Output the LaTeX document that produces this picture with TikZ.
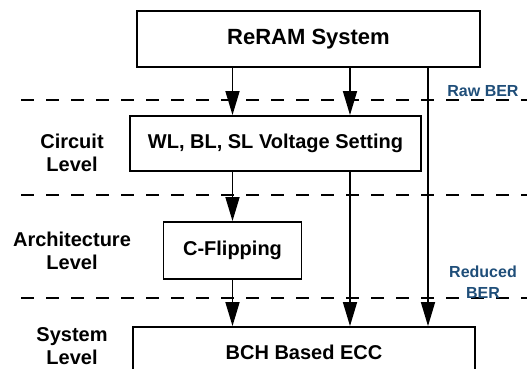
\documentclass[tikz,border=0pt]{standalone}
\usepackage{fontspec}
\setmainfont{Liberation Sans}
\usepackage{xcolor}
\usetikzlibrary{positioning,arrows.meta}
\definecolor{BerBlue}{HTML}{1F4E79}

\begin{document}
\begin{tikzpicture}[
  x=1pt,y=-1pt,
  every node/.style={font=\bfseries\fontsize{20}{23}\selectfont,align=center,inner sep=0pt},
  box/.style={draw=black,line width=1.8pt,fill=white,minimum height=56pt},
  level/.style={text=black},
  ber/.style={text=BerBlue,font=\bfseries\fontsize{16}{21}\selectfont},
  sep/.style={dashed,dash pattern=on 13pt off 12pt,line width=1.5pt},
  arr/.style={-{Triangle[length=24pt,width=14pt]},line width=1.5pt}
]
  \clip (0,0) rectangle (527,369);
  \useasboundingbox (0,0) rectangle (527,369);

  % level separators
  \draw[sep] (21,100) -- (527,100);
  \draw[sep] (21,195) -- (527,195);
  \draw[sep] (21,298) -- (527,298);

  \node[box,minimum width=343pt,font=\bfseries\fontsize{22}{24}\selectfont] (reram) at (308.5,39) {ReRAM System};
  \node[box,minimum width=291pt,minimum height=55pt] (wl) at (275.5,143.5) {WL, BL, SL Voltage Setting};
  \node[box,minimum width=138pt,minimum height=57pt] (cflip) at (232.5,250.5) {C-Flipping};
  \node[box,minimum width=342pt,minimum height=50pt] (bch) at (304,352) {BCH Based ECC};

  \node[level] (circuit) at (72,153) {Circuit\\Level};
  \node[level] (arch) at (72,251) {Architecture\\Level};
  \node[level] (system) at (72,346) {System\\Level};
  \node[ber] (raw) at (483,91) {Raw BER};
  \node[ber] (reduced) at (483,282) {Reduced\\BER};

  \coordinate (mid) at (350,0);
  \coordinate (side) at (428,0);

  \draw[arr] (reram.south -| cflip) -- (wl.north -| cflip);
  \draw[arr] (reram.south -| mid) -- (wl.north -| mid);
  \draw[arr] (wl.south -| cflip) -- (cflip.north);
  \draw[arr] (wl.south -| mid) -- (bch.north -| mid);
  \draw[arr] (cflip.south) -- (bch.north -| cflip);
  \draw[arr] (reram.south -| side) -- (bch.north -| side);
\end{tikzpicture}
\end{document}
